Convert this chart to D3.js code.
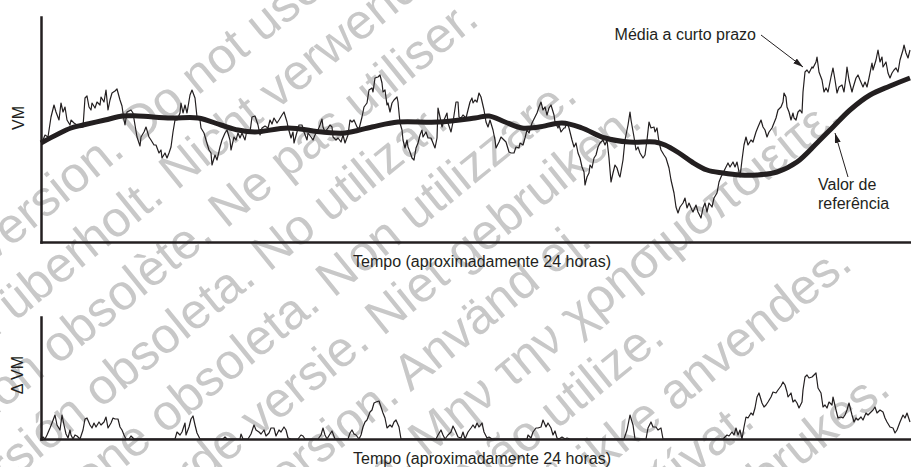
<!DOCTYPE html>
<html>
<head>
<meta charset="utf-8">
<script src="https://cdn.jsdelivr.net/npm/d3@7"></script>
<style>
  html, body { margin: 0; padding: 0; background: #fff; }
  svg { display: block; }
</style>
</head>
<body>
<svg id="chart" width="911" height="467"></svg>
<script>
// Time axis: arbitrary units across roughly 24 hours (0..870)
// Short-term average of VM
const shortTime = [0,2,4,7,10,13,15,18,20,22,24,26,29,30,33,36,40,42,44,46,48,50,51,54,56,59,60,63,65,67,69,71,74,76,79,81,83,84,86,90,92,94,96,99,100,103,105,108,110,113,115,118,120,121,124,126,128,130,132,134,136,139,140,142,144,146,149,151,154,156,159,160,163,165,168,170,171,174,176,179,181,184,186,189,190,193,195,197,199,201,204,206,209,211,214,217,219,221,224,227,229,231,233,236,238,241,243,246,247,250,252,253,256,258,261,263,266,267,270,272,274,277,279,281,282,284,287,289,291,292,295,297,300,302,304,307,309,311,313,316,318,321,323,326,328,331,332,334,337,339,341,342,344,346,347,349,351,353,356,357,359,361,362,364,366,367,369,371,373,375,377,379,381,382,385,387,390,392,394,396,397,399,401,403,406,407,410,412,415,417,418,420,422,425,427,429,431,432,434,436,438,440,443,445,447,449,452,454,455,458,460,463,465,468,470,473,475,478,479,482,484,486,488,491,494,496,498,500,502,504,506,508,510,513,514,517,518,520,523,524,526,528,531,533,535,537,539,541,543,544,546,548,549,551,553,555,557,559,562,564,566,568,570,572,574,576,578,579,582,584,587,589,590,593,595,597,599,602,604,606,608,610,613,614,616,618,620,623,625,628,630,633,635,637,639,642,644,646,648,651,652,655,657,660,662,664,666,668,671,673,676,678,680,682,685,687,689,692,694,696,697,699,701,703,705,707,710,712,715,717,720,722,724,726,728,731,733,735,737,740,742,743,745,746,748,750,752,753,755,757,759,761,762,764,766,768,771,772,775,776,778,781,783,785,787,790,792,794,796,798,801,803,805,806,808,811,812,815,817,819,822,824,826,828,831,832,835,837,839,841,842,845,847,849,851,853,855,857,859,862,863,865,867,869];
const shortVM = [100,102,107,105,125,137,130,122,139,130,135,122,117,122,119,117,115,115,144,146,135,132,139,134,140,137,145,140,152,132,142,149,151,153,142,136,122,117,130,132,129,117,105,96,105,110,115,105,102,97,97,89,92,84,89,84,89,95,110,122,122,129,139,129,137,129,147,152,144,125,122,114,109,102,92,89,77,87,82,95,102,109,112,102,92,105,102,109,104,109,102,112,110,125,126,117,107,114,116,114,122,118,124,119,122,127,130,120,115,104,110,99,110,117,117,110,102,109,105,102,107,112,117,123,115,110,114,117,115,105,102,104,100,107,99,107,122,120,122,115,113,125,135,139,152,154,150,164,165,167,159,150,152,137,139,130,139,142,145,140,119,112,102,94,102,95,90,84,82,94,99,107,112,105,110,104,104,99,94,104,134,125,115,122,129,119,110,120,140,140,125,124,127,124,132,140,144,139,142,140,149,145,132,120,115,122,112,102,94,100,105,102,100,90,89,89,95,94,99,97,104,112,109,119,125,129,135,140,132,135,127,134,137,127,120,114,117,110,114,114,120,114,102,95,99,89,84,75,70,57,65,69,77,74,84,87,95,99,102,97,102,84,60,69,77,74,67,65,82,102,117,130,122,105,92,95,89,84,87,102,120,114,115,110,114,100,92,87,84,74,62,49,35,29,35,39,44,34,39,32,30,37,30,24,34,39,30,39,35,44,49,60,65,69,75,79,75,80,75,80,75,65,82,97,105,97,102,100,110,115,122,115,112,105,110,114,119,124,132,135,140,149,145,135,130,122,129,124,122,130,132,129,150,170,172,169,175,174,180,185,170,162,150,154,150,165,174,162,149,155,157,150,165,175,162,150,154,164,167,162,155,160,155,164,179,172,182,192,180,185,175,180,169,164,169,172,174,170,182,192,197,189,184,192];

// Long-term reference value of VM
const refTime = [0,30,42,64,82,97,130,157,180,197,214,247,281,304,331,357,397,434,448,464,481,498,521,541,564,588,614,624,638,651,666,682,699,716,736,756,776,792,809,829,849,869];
const refVM = [99,114,117,122,126,126,124,124,117,112,110,114,110,109,115,120,120,124,126,120,114,115,119,114,104,100,100,97,89,80,72,69,67,67,70,80,99,115,132,147,156,164];

// Positive departure of the short-term average above the reference (Δ VM)
const deltaTime = [0,2,4,6,9,11,14,16,19,21,23,25,27,29,30,32,34,36,39,42,44,46,49,51,53,55,58,60,63,65,67,70,72,74,77,79,81,83,85,88,90,93,134,136,139,141,144,145,148,150,152,154,156,159,182,184,186,199,200,202,207,210,213,215,218,220,223,225,228,230,233,235,238,240,243,245,247,250,257,260,262,264,277,280,282,284,286,289,291,294,307,309,311,313,315,318,320,322,324,326,329,331,333,335,338,340,342,344,346,349,351,353,355,358,360,395,397,400,402,404,407,410,412,414,417,420,422,424,427,430,432,434,436,438,441,443,446,448,451,486,487,490,492,495,497,500,502,505,507,510,512,514,516,518,521,524,526,529,583,586,589,592,594,605,607,610,612,615,617,620,622,682,684,686,688,691,693,695,697,699,701,703,705,707,710,712,714,716,718,721,723,725,727,730,732,735,737,740,742,744,746,747,750,752,754,756,758,761,762,764,766,768,771,773,775,777,780,782,784,786,788,791,792,795,797,800,802,804,806,808,811,813,815,817,820,822,825,827,830,832,834,836,839,842,844,846,849,852,854,856,859,862,864,866,869];
const deltaVM = [0,2,0,4,11,16,24,14,9,24,14,5,1,9,4,0,4,3,0,9,20,21,14,11,16,12,17,14,17,22,11,16,21,20,20,12,9,4,0,0,3,0,0,7,4,7,16,4,12,20,23,14,6,0,0,2,0,0,5,0,0,5,14,9,7,5,9,3,6,11,11,3,9,7,12,9,1,0,0,4,3,0,0,4,11,4,0,5,8,0,0,6,9,5,4,0,4,12,17,19,27,29,36,37,38,32,26,21,11,14,12,17,19,12,0,0,4,9,4,0,4,7,13,9,2,1,7,0,7,11,14,11,16,12,16,7,1,2,0,0,4,1,7,11,11,12,19,12,16,11,4,8,1,0,2,0,1,0,0,9,24,14,0,0,11,17,12,12,9,11,0,0,2,4,3,7,4,11,4,9,0,12,22,21,26,24,31,42,46,36,32,34,37,42,47,46,49,53,57,54,47,42,46,37,39,36,31,37,49,62,64,61,62,64,66,51,46,32,34,31,37,34,42,29,21,22,21,24,29,36,24,17,21,19,22,19,26,24,27,29,32,26,29,27,21,17,12,11,6,9,17,24,21,26,17];

const timeLabel = "Tempo (aproximadamente 24 horas)";
const topYLabel = "VM";
const bottomYLabel = "Δ VM";
const shortLabel = "Média a curto prazo";
const refLabel = ["Valor de", "referência"];

// Background notice printed across the figure
const noticeLines = [
  "Outdated version. Do not use.",
  "Version überholt. Nicht verwenden.",
  "Version obsolète. Ne pas utiliser.",
  "Versión obsoleta. No utilizar.",
  "Versione obsoleta. Non utilizzare.",
  "Verouderde versie. Niet gebruiken.",
  "Föråldrad version. Använd ej.",
  "Παλιά έκδοση. Μην την χρησιμοποιείτε.",
  "Versão obsoleta. Não utilize.",
  "Forældet version. Må ikke anvendes.",
  "Zastaralá verze. Nepoužívat.",
  "Utdatert versjon. Skal ikke brukes.",
  "Elavult verzió. Ne használja!",
  "Vanhentunut versio. Älä käytä."
];
// start of each notice line along its own direction
const noticeStart = [-393, -372, -366, -360, -354, -348, -342, -290, -330, -324, -318, -312, -306, -300];

const INK = "#231f20";
const FONT = "'Liberation Sans', Arial, Helvetica, sans-serif";

const svg = d3.select("#chart");

const x = d3.scaleLinear().domain([0, 870]).range([41, 911]);
const yTop = d3.scaleLinear().domain([0, 225]).range([242, 17]);
const yBot = d3.scaleLinear().domain([0, 122]).range([439, 317]);

// notice text, rotated, beneath everything
svg.append("g")
  .attr("transform", "rotate(-39)")
  .attr("font-family", FONT)
  .attr("font-size", 50)
  .attr("fill", "#c8c8c8")
  .selectAll("text")
  .data(noticeLines)
  .join("text")
  .attr("x", (d, i) => noticeStart[i])
  .attr("y", (d, i) => 199 + i * 60.7)
  .text(d => d);

// arrowhead for the callouts
svg.append("defs").append("marker")
  .attr("id", "arrow")
  .attr("viewBox", "0 0 10 6")
  .attr("refX", 10).attr("refY", 3)
  .attr("markerWidth", 10).attr("markerHeight", 6)
  .attr("markerUnits", "userSpaceOnUse")
  .attr("orient", "auto")
  .append("path")
  .attr("d", "M0,0L10,3L0,6Z")
  .attr("fill", INK);

function styleAxis(g) {
  g.select(".domain")
    .attr("stroke", INK)
    .attr("stroke-width", 2.5)
    .attr("stroke-linecap", "square");
}

// ---- Top panel: VM ----
svg.append("g")
  .attr("transform", `translate(0,${yTop(0)})`)
  .call(d3.axisBottom(x).tickValues([]).tickSizeOuter(0))
  .call(styleAxis);
svg.append("g")
  .attr("transform", `translate(${x(0)},0)`)
  .call(d3.axisLeft(yTop).tickValues([]).tickSizeOuter(0))
  .call(styleAxis);

const refLine = d3.line()
  .x(d => x(d[0])).y(d => yTop(d[1]))
  .curve(d3.curveCatmullRom.alpha(0.5));
svg.append("path")
  .datum(d3.zip(refTime, refVM))
  .attr("d", refLine)
  .attr("fill", "none")
  .attr("stroke", INK)
  .attr("stroke-width", 5)
  .attr("stroke-linecap", "butt");

const shortLine = d3.line().x(d => x(d[0])).y(d => yTop(d[1]));
svg.append("path")
  .datum(d3.zip(shortTime, shortVM))
  .attr("d", shortLine)
  .attr("fill", "none")
  .attr("stroke", INK)
  .attr("stroke-width", 1.2)
  .attr("stroke-linejoin", "round");

// ---- Bottom panel: Δ VM ----
svg.append("g")
  .attr("transform", `translate(0,${yBot(0)})`)
  .call(d3.axisBottom(x).tickValues([]).tickSizeOuter(0))
  .call(styleAxis);
svg.append("g")
  .attr("transform", `translate(${x(0)},0)`)
  .call(d3.axisLeft(yBot).tickValues([]).tickSizeOuter(0))
  .call(styleAxis);

const deltaLine = d3.line().x(d => x(d[0])).y(d => yBot(d[1]));
svg.append("path")
  .datum(d3.zip(deltaTime, deltaVM))
  .attr("d", deltaLine)
  .attr("fill", "none")
  .attr("stroke", INK)
  .attr("stroke-width", 1.2)
  .attr("stroke-linejoin", "round");

// ---- Labels ----
const labels = svg.append("g")
  .attr("font-family", FONT)
  .attr("font-size", 16)
  .attr("fill", INK);

labels.append("text")
  .attr("x", 482).attr("y", 267)
  .attr("text-anchor", "middle")
  .text(timeLabel);
labels.append("text")
  .attr("x", 482).attr("y", 464)
  .attr("text-anchor", "middle")
  .text(timeLabel);

labels.append("text")
  .attr("transform", "translate(24,118) rotate(-90)")
  .attr("text-anchor", "middle")
  .text(topYLabel);
labels.append("text")
  .attr("transform", "translate(23,375) rotate(-90)")
  .attr("text-anchor", "middle")
  .text(bottomYLabel);

// callout: short-term average
labels.append("text")
  .attr("x", x(715)).attr("y", yTop(202))
  .attr("text-anchor", "end")
  .text(shortLabel);
svg.append("line")
  .attr("x1", x(720)).attr("y1", yTop(207))
  .attr("x2", x(762)).attr("y2", yTop(175))
  .attr("stroke", INK).attr("stroke-width", 1)
  .attr("marker-end", "url(#arrow)");

// callout: reference value
labels.append("text")
  .attr("x", x(777)).attr("y", yTop(52))
  .text(refLabel[0]);
labels.append("text")
  .attr("x", x(777)).attr("y", yTop(33))
  .text(refLabel[1]);
svg.append("line")
  .attr("x1", x(807)).attr("y1", yTop(65))
  .attr("x2", x(794)).attr("y2", yTop(109))
  .attr("stroke", INK).attr("stroke-width", 1)
  .attr("marker-end", "url(#arrow)");
</script>
</body>
</html>
